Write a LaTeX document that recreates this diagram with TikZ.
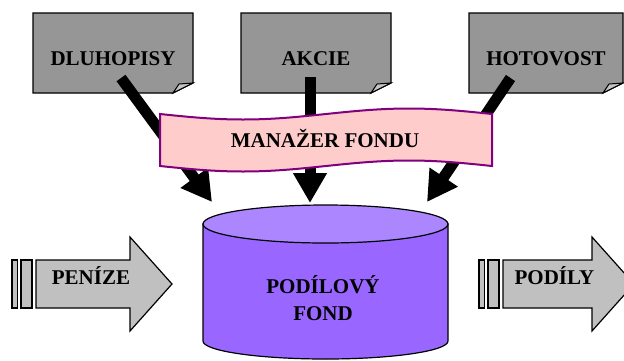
\documentclass[tikz,border=0pt]{standalone}
\usepackage{fontspec}
\setmainfont{Liberation Serif}
\usepackage{tikz}
\usetikzlibrary{arrows.meta,calc,backgrounds}
\definecolor{notegray}{HTML}{969696}
\definecolor{foldgray}{HTML}{C4C4C4}
\definecolor{silvergray}{HTML}{C0C0C0}
\definecolor{bannerpink}{HTML}{FFCCCC}
\definecolor{bannerline}{HTML}{800080}
\definecolor{fondbody}{HTML}{9966FF}
\definecolor{fondtop}{HTML}{AC86FF}

\begin{document}
\begin{tikzpicture}[
  x=1pt, y=-1pt,
  txt/.style={font=\fontsize{21}{27}\selectfont\bfseries},
  note/.style={txt, inner sep=0pt, outer sep=0pt, minimum height=80pt,
               text height=24pt, text depth=0pt},
  notebox/.style={draw, line width=1.2pt, fill=notegray},
  fold/.style={draw, line width=1pt, fill=foldgray},
  lbl/.style={txt, inner sep=0pt, text height=14pt, text depth=0pt},
  fat/.style={draw, line width=1.2pt, fill=silvergray},
  big/.style={line width=11pt, -{Triangle[width=32pt, length=30pt]}},
  banner/.style={draw=bannerline, line width=2pt, fill=bannerpink}]
  \useasboundingbox (0,0) rectangle (624,360);

  % assets
  \node[note, minimum width=160pt] (dluh) at (113,53) {DLUHOPISY};
  \node[note, minimum width=150pt] (akcie) at (316,53) {AKCIE};
  \node[note, minimum width=154pt] (hot) at (546,53) {HOTOVOST};
  \begin{scope}[on background layer]
    \foreach \n in {dluh,akcie,hot}{
      \draw[notebox] (\n.north west) -- (\n.north east) -- ([yshift=10pt]\n.south east)
        -- ([xshift=-20pt]\n.south east) -- (\n.south west) -- cycle;
      \draw[fold] ([xshift=-20pt]\n.south east) .. controls ([xshift=-17pt,yshift=4pt]\n.south east)
        .. ([xshift=-14pt,yshift=9pt]\n.south east) -- ([yshift=10pt]\n.south east) -- cycle;
    }
  \end{scope}

  % the fund
  \draw[line width=1.2pt, fill=fondbody] (203,224) -- (203,341)
    arc[start angle=180, end angle=360, x radius=122.5pt, y radius=18pt] -- (448,224) -- cycle;
  \draw[line width=1.2pt, fill=fondtop] (325.5,224) ellipse[x radius=122.5pt, y radius=19pt];
  \node[txt, align=center] (fond) at (323,298) {PODÍLOVÝ\\FOND};

  % flows into the fund
  \coordinate (in1) at (212,202);
  \coordinate (in2) at (310,203);
  \coordinate (in3) at (427,202);
  \draw[big] ($(dluh.south)+(8,-15)$) -- (in1);
  \draw[big] ($(akcie.south)+(-6,-16)$) -- (in2);
  \draw[big] ($(hot.south)+(-35.5,-15)$) -- (in3);

  % manager
  \draw[banner] (160,114) sin (243,119.5) cos (326,114) sin (409,108.5) cos (492,114)
    -- (492,166) sin (409,160.5) cos (326,166) sin (243,171.5) cos (160,166) -- cycle;
  \node[lbl] (mgr) at (325,140) {MANAŽER FONDU};

  % money in, shares out
  \foreach \x/\b/\t in {12/130/172, 479/592/634}{
    \draw[fat] (\x,260) rectangle (\x+5.5,308);
    \draw[fat] (\x+9,260) rectangle (\x+20,308);
    \draw[fat] (\x+24,260) -- (\b,260) -- (\b,237) -- (\t,284) -- (\b,331) -- (\b,308)
      -- (\x+24,308) -- cycle;
  }
  \node[lbl] (penize) at (91,277) {PENÍZE};
  \node[lbl] (podily) at (554.5,277) {PODÍLY};
\end{tikzpicture}
\end{document}
